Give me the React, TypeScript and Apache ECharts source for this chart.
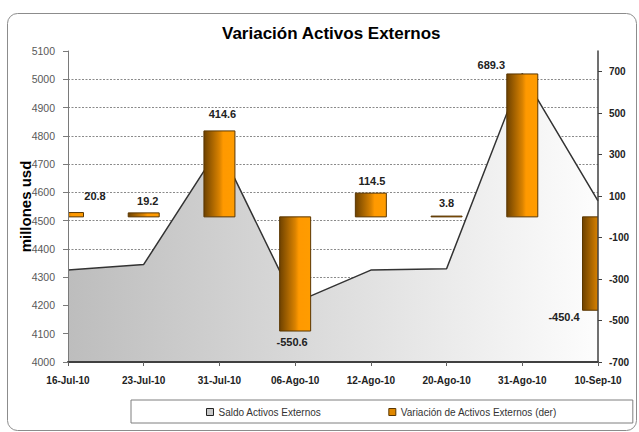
import React, { useEffect, useRef } from 'react';
import * as echarts from 'echarts';

const categories = ['16-Jul-10', '23-Jul-10', '31-Jul-10', '06-Ago-10', '12-Ago-10', '20-Ago-10', '31-Ago-10', '10-Sep-10'];
const saldo = [4325, 4345, 4760, 4210, 4325, 4330, 5020, 4570];
const variacion = [20.8, 19.2, 414.6, -550.6, 114.5, 3.8, 689.3, -450.4];
const rightTicks = [-700, -500, -300, -100, 100, 300, 500, 700];

const seriesNames = ['Saldo Activos Externos', 'Variación de Activos Externos (der)'];

// label nudges (style only)
const labelOffsets: number[][] = [[27, -6], [4, -1], [3, -6], [-3, 0], [1, -2], [0, -3], [-31, 2], [-34, -4]];

const FONT = '"Liberation Sans", Arial, sans-serif';
const BAR_WIDTH = 31;

const barGrad = {
  type: 'linear', x: 0, y: 0, x2: 1, y2: 0,
  colorStops: [
    { offset: 0, color: '#6e4200' },
    { offset: 0.5, color: '#d98200' },
    { offset: 0.62, color: '#ff9900' },
    { offset: 1, color: '#ff9c00' },
  ],
};

export default function App() {
  const ref = useRef<HTMLDivElement>(null);
  useEffect(() => {
    const chart = echarts.init(ref.current!, null, { renderer: 'svg' });
    const option: any = {
      animation: false,
      backgroundColor: '#ffffff',
      textStyle: { fontFamily: FONT },
      title: {
        text: 'Variación Activos Externos',
        left: 222,
        top: 25,
        padding: 0,
        textStyle: { fontFamily: FONT, fontSize: 17, fontWeight: 'bold', color: '#000000' },
      },
      graphic: [
        {
          type: 'rect',
          silent: true,
          z: -10,
          shape: { x: 7.5, y: 13.5, width: 629, height: 417, r: 10 },
          style: { fill: 'none', stroke: '#8c8c8c', lineWidth: 1 },
        },
      ],
      legend: {
        left: 131,
        top: 400,
        orient: 'horizontal',
        borderColor: '#7f7f7f',
        borderWidth: 1,
        borderRadius: 0,
        padding: [7, 76, 6, 75],
        itemGap: 67,
        itemWidth: 7,
        itemHeight: 7,
        textStyle: { fontFamily: FONT, fontSize: 10, color: '#333333' },
        data: [
          { name: seriesNames[0], icon: 'rect', itemStyle: { color: '#c8c8c8', borderColor: '#222222', borderWidth: 1 } },
          { name: seriesNames[1], icon: 'rect', itemStyle: { color: '#e08800', borderColor: '#5a3600', borderWidth: 1 } },
        ],
      },
      grid: { left: 68, right: 41, top: 51, bottom: 70, containLabel: false },
      xAxis: {
        type: 'category',
        data: categories,
        boundaryGap: false,
        z: 10,
        axisLine: { show: true, onZero: false, lineStyle: { color: '#404040', width: 2 } },
        axisTick: { show: true, length: 4, lineStyle: { color: '#606060' } },
        axisLabel: { interval: 0, margin: 13, fontFamily: FONT, fontSize: 10, fontWeight: 'bold', color: '#222222' },
        splitLine: { show: false },
      },
      yAxis: [
        {
          type: 'value',
          position: 'left',
          min: 4000,
          max: 5100,
          interval: 100,
          z: 10,
          name: 'millones usd',
          nameLocation: 'middle',
          nameGap: 35,
          nameMoveOverlap: false,
          nameTextStyle: { fontFamily: FONT, fontSize: 15, fontWeight: 'bold', color: '#000000' },
          axisLine: { show: true, lineStyle: { color: '#7a7a7a', width: 1 } },
          axisTick: { show: true, length: 5, lineStyle: { color: '#7a7a7a' } },
          axisLabel: { margin: 13, fontFamily: FONT, fontSize: 10.5, color: '#595959', formatter: (v: number) => String(v) },
          splitLine: { show: false },
        },
        {
          type: 'value',
          position: 'right',
          min: -700,
          max: 800,
          interval: 100,
          z: 10,
          axisLine: { show: true, onZero: false, lineStyle: { color: '#404040', width: 1.5 } },
          axisTick: { show: true, length: 4, customValues: rightTicks, lineStyle: { color: '#404040' } },
          axisLabel: { margin: 11, customValues: rightTicks, fontFamily: FONT, fontSize: 10, fontWeight: 'bold', color: '#222222', formatter: (v: number) => String(v) },
          splitLine: { show: false },
        },
        {
          type: 'value',
          position: 'left',
          min: 4000,
          max: 5100,
          interval: 100,
          z: 0,
          axisLine: { show: false, onZero: false },
          axisTick: { show: false },
          axisLabel: { show: false },
          splitLine: {
            show: true,
            showMinLine: false,
            showMaxLine: false,
            lineStyle: { color: '#8a8a8a', width: 1, type: [2, 1.5] },
          },
        },
      ],
      series: [
        {
          name: seriesNames[0],
          type: 'line',
          yAxisIndex: 0,
          data: saldo,
          z: 2,
          symbol: 'none',
          showSymbol: false,
          lineStyle: { color: '#333333', width: 1.5 },
          itemStyle: { color: '#c8c8c8' },
          areaStyle: {
            opacity: 1,
            color: {
              type: 'linear', x: 0, y: 0, x2: 1, y2: 0,
              colorStops: [
                { offset: 0, color: '#bdbdbd' },
                { offset: 1, color: '#fdfdfd' },
              ],
            },
          },
        },
        {
          name: seriesNames[1],
          type: 'custom',
          yAxisIndex: 1,
          z: 3,
          clip: true,
          itemStyle: { color: '#e08800' },
          encode: { x: 0, y: 1 },
          data: variacion.map((v, i) => [i, v]),
          renderItem: (params: any, api: any) => {
            const idx = api.value(0);
            const v = api.value(1);
            const top = api.coord([idx, v]);
            const base = api.coord([idx, 0]);
            const y = Math.min(top[1], base[1]);
            const h = Math.max(Math.abs(top[1] - base[1]), 0.8);
            const off = labelOffsets[params.dataIndex] || [0, 0];
            const pos = v >= 0;
            return {
              type: 'group',
              children: [
                {
                  type: 'rect',
                  shape: { x: base[0] - BAR_WIDTH / 2, y, width: BAR_WIDTH, height: h },
                  style: { fill: barGrad, stroke: '#5a3600', lineWidth: 1 },
                },
                {
                  type: 'text',
                  x: base[0] + off[0],
                  y: (pos ? y - 5 : y + h + 5) + off[1],
                  style: {
                    text: Number(v).toFixed(1),
                    fill: '#222222',
                    fontFamily: FONT,
                    fontSize: 11,
                    fontWeight: 'bold',
                    align: 'center',
                    verticalAlign: pos ? 'bottom' : 'top',
                    textAlign: 'center',
                    textVerticalAlign: pos ? 'bottom' : 'top',
                  },
                },
              ],
            };
          },
        },
      ],
    };
    chart.setOption(option);
    return () => chart.dispose();
  }, []);
  return <div ref={ref} style={{ position: 'fixed', left: 0, top: 0, width: 639, height: 432 }} />;
}
